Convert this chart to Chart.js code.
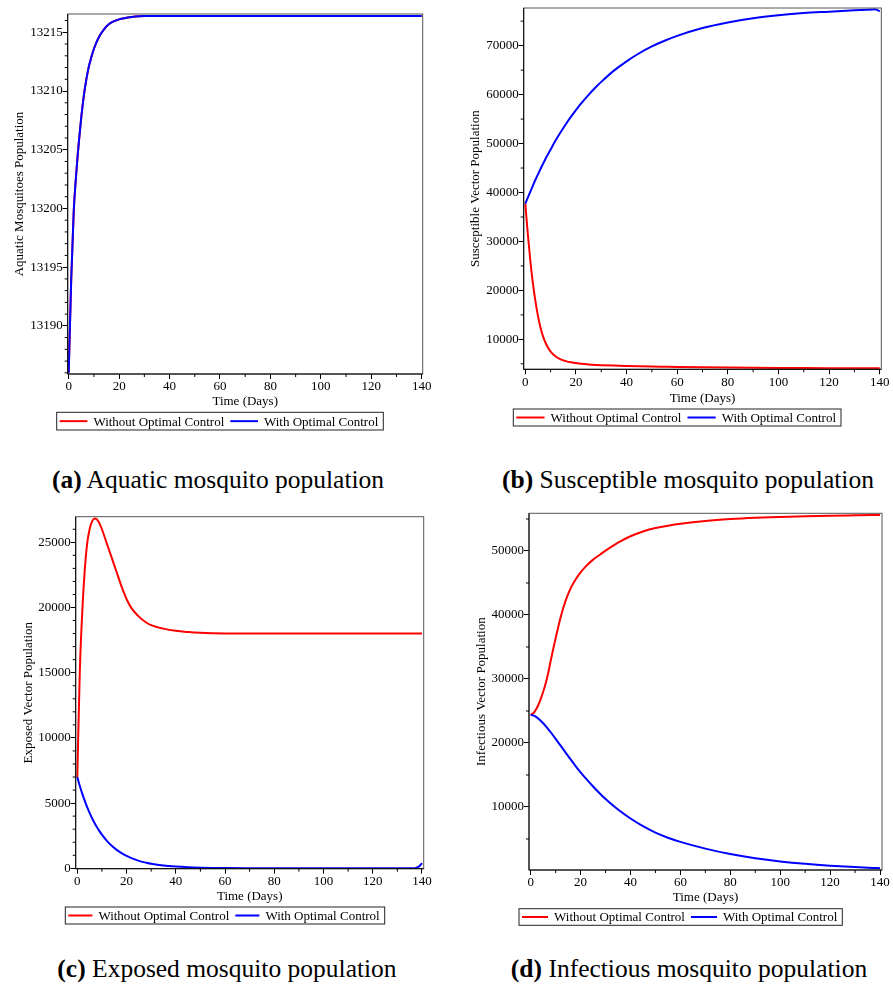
<!DOCTYPE html>
<html>
<head>
<meta charset="utf-8">
<title>Mosquito populations</title>
<script src="https://cdn.jsdelivr.net/npm/chart.js@4.4.1/dist/chart.umd.min.js"></script>
<style>
  body { margin: 0; background: #fff; width: 893px; height: 989px; position: relative; overflow: hidden;
         font-family: "Liberation Serif", "Times New Roman", serif; color: #000; }
  .panel { position: absolute; }
  .caption { position: absolute; font-size: 25.5px; line-height: 25px; white-space: nowrap; transform: translateX(-50%); }
</style>
</head>
<body>
<div class="panel" style="left:0px;top:0px"><canvas id="chartA" width="440" height="440"></canvas></div>
<div class="panel" style="left:450px;top:0px"><canvas id="chartB" width="443" height="440"></canvas></div>
<div class="panel" style="left:0px;top:500px"><canvas id="chartC" width="440" height="440"></canvas></div>
<div class="panel" style="left:450px;top:500px"><canvas id="chartD" width="443" height="440"></canvas></div>

<div class="caption" style="left:218px;top:467px"><b>(a)</b> Aquatic mosquito population</div>
<div class="caption" style="left:688px;top:467px"><b>(b)</b> Susceptible mosquito population</div>
<div class="caption" style="left:227px;top:956px"><b>(c)</b> Exposed mosquito population</div>
<div class="caption" style="left:689px;top:956px"><b>(d)</b> Infectious mosquito population</div>

<script>
// time points (days) shared by every series
const days = [0, 1, 2, 3, 4, 5, 6, 7, 8, 9, 10, 12, 14, 16, 18, 20, 22, 25, 28, 30,
  35, 40, 45, 50, 55, 60, 70, 80, 90, 100, 110, 120, 130, 137, 138, 139, 140];

const seriesLabels = ["Without Optimal Control", "With Optimal Control"];
const xTitle = "Time (Days)";
const xTicks = [0, 20, 40, 60, 80, 100, 120, 140];

// (a) aquatic
const aquaticWithout = [13186, 13194, 13199.8, 13203, 13205.6, 13207.8, 13209.6, 13211, 13212.1, 13212.9, 13213.6,
  13214.6, 13215.25, 13215.7, 13215.95, 13216.1, 13216.2, 13216.3, 13216.36, 13216.38,
  13216.4, 13216.4, 13216.4, 13216.4, 13216.4, 13216.4,
  13216.4, 13216.4, 13216.4, 13216.4, 13216.4, 13216.4, 13216.4,
  13216.4, 13216.4, 13216.4, 13216.4];
const aquaticWith = [13186, 13194, 13199.8, 13203, 13205.6, 13207.8, 13209.6, 13211, 13212.1, 13212.9, 13213.6,
  13214.6, 13215.25, 13215.7, 13215.95, 13216.1, 13216.2, 13216.3, 13216.36, 13216.38,
  13216.4, 13216.4, 13216.4, 13216.4, 13216.4, 13216.4,
  13216.4, 13216.4, 13216.4, 13216.4, 13216.4, 13216.4, 13216.4,
  13216.4, 13216.4, 13216.4, 13216.4];
const aquaticTicks = [13190, 13195, 13200, 13205, 13210, 13215];

// (b) susceptible
const susceptibleWithout = [37700, 31500, 26000, 21500, 17800, 14800, 12400, 10600, 9300, 8300, 7500,
  6500, 5900, 5550, 5300, 5150, 5020, 4880, 4780, 4730,
  4630, 4560, 4500, 4450, 4410, 4370,
  4300, 4240, 4190, 4150, 4120, 4100, 4080,
  4070, 4070, 4070, 4070];
const susceptibleWith = [37700, 38950, 40200, 41400, 42600, 43700, 44800, 45850, 46900, 47850, 48800,
  50650, 52350, 53950, 55450, 56850, 58150, 59950, 61600, 62600,
  64900, 66800, 68450, 69850, 71000, 72000,
  73600, 74750, 75600, 76200, 76650, 76950, 77250,
  77400, 77420, 77300, 77000];
const susceptibleTicks = [10000, 20000, 30000, 40000, 50000, 60000, 70000];

// (c) exposed
const exposedWithout = [7000, 15000, 19600, 22800, 24900, 26000, 26600, 26830, 26750, 26450, 26000,
  24900, 23800, 22700, 21600, 20650, 19950, 19300, 18850, 18650,
  18380, 18210, 18120, 18060, 18030, 18015,
  18003, 18000, 18000, 18000, 18000, 18000, 18000,
  18000, 18000, 18000, 18000];
const exposedWith = [7000, 6330, 5730, 5190, 4690, 4250, 3840, 3480, 3150, 2850, 2580,
  2110, 1730, 1410, 1160, 950, 780, 570, 430, 350,
  210, 130, 80, 50, 30, 20,
  10, 5, 3, 2, 1, 1, 1,
  10, 60, 180, 400];
const exposedTicks = [0, 5000, 10000, 15000, 20000, 25000];

// (d) infectious
const infectiousWithout = [24400, 24650, 25150, 25900, 26850, 28000, 29300, 30900, 32800, 34650, 36350,
  39650, 42250, 44150, 45550, 46650, 47550, 48650, 49500, 50050,
  51300, 52300, 53050, 53600, 53950, 54250,
  54700, 55000, 55200, 55330, 55430, 55510, 55570,
  55610, 55615, 55620, 55625];
const infectiousWith = [24400, 24320, 24120, 23830, 23480, 23080, 22640, 22170, 21680, 21170, 20650,
  19580, 18500, 17430, 16400, 15420, 14500, 13200, 12000, 11250,
  9600, 8200, 7000, 6000, 5200, 4550,
  3500, 2650, 2000, 1500, 1120, 830, 610,
  480, 465, 450, 440];
const infectiousTicks = [10000, 20000, 30000, 40000, 50000];

const FONT_FAMILY = "'Liberation Serif', 'Times New Roman', serif";
Chart.defaults.font.family = FONT_FAMILY;
Chart.defaults.font.size = 13;
Chart.defaults.color = "#000";

const HALF_LINE = 13 * 1.2 / 2;

// box around the plot area
const plotFrame = {
  id: "plotFrame",
  afterDatasetsDraw(chart) {
    const { ctx, chartArea: a } = chart;
    ctx.save();
    ctx.lineWidth = 1;
    ctx.strokeStyle = "#555";
    ctx.strokeRect(a.left, a.top, a.right - a.left, a.bottom - a.top);
    ctx.strokeStyle = "#000";
    ctx.beginPath();
    ctx.moveTo(a.left, a.top);
    ctx.lineTo(a.left, a.bottom);
    ctx.lineTo(a.right, a.bottom);
    ctx.stroke();
    ctx.restore();
  }
};

// short unlabeled ticks between the labelled ones
const minorTicks = {
  id: "minorTicks",
  afterDraw(chart, args, opts) {
    const { ctx, chartArea: a, scales } = chart;
    ctx.save();
    ctx.strokeStyle = "#000";
    ctx.lineWidth = 1;
    ctx.beginPath();
    ["x", "y"].forEach(id => {
      const s = scales[id];
      const step = opts[id];
      const majors = s.ticks.map(t => t.value);
      for (let k = Math.ceil(s.min / step); k * step <= s.max; k++) {
        const v = k * step;
        if (majors.some(m => Math.abs(m - v) < step / 10)) continue;
        const p = s.getPixelForValue(v);
        if (id === "x") { ctx.moveTo(p, a.bottom); ctx.lineTo(p, a.bottom + 3); }
        else { ctx.moveTo(a.left, p); ctx.lineTo(a.left - 3, p); }
      }
    });
    ctx.stroke();
    ctx.restore();
  }
};

// legend inside a framed box under the plot
const boxedLegend = {
  id: "boxedLegend",
  afterDraw(chart, args, opts) {
    const { ctx } = chart;
    const b = opts.box;
    const sets = chart.data.datasets;
    ctx.save();
    ctx.font = "13px " + FONT_FAMILY;
    const widths = sets.map(d => ctx.measureText(d.label).width);
    const gap = 6;
    const lineLen = (b.w - widths[0] - widths[1] - gap * 3 - 8) / 2;
    ctx.strokeStyle = "#222";
    ctx.lineWidth = 1;
    ctx.strokeRect(b.x, b.y, b.w, b.h);
    const cy = b.y + b.h / 2;
    let x = b.x + 3;
    sets.forEach((d, i) => {
      ctx.strokeStyle = d.borderColor;
      ctx.lineWidth = 2;
      ctx.beginPath();
      ctx.moveTo(x, cy);
      ctx.lineTo(x + lineLen, cy);
      ctx.stroke();
      x += lineLen + gap;
      ctx.fillStyle = "#000";
      ctx.textBaseline = "middle";
      ctx.fillText(d.label, x, cy + 1);
      x += widths[i] + gap;
    });
    ctx.restore();
  }
};

function makeChart(id, p) {
  const padLeft = p.yTitleX - HALF_LINE;
  const xAxisBottom = p.xTitleY + HALF_LINE;
  const toPoints = arr => days.map((d, i) => ({ x: d, y: arr[i] }));
  return new Chart(document.getElementById(id), {
    type: "line",
    data: {
      datasets: [
        { label: seriesLabels[0], data: toPoints(p.without), borderColor: "#ff0000", backgroundColor: "#ff0000", order: 1 },
        { label: seriesLabels[1], data: toPoints(p.with), borderColor: "#0000ff", backgroundColor: "#0000ff", order: 0 }
      ]
    },
    options: {
      responsive: false,
      animation: false,
      elements: {
        point: { radius: 0 },
        line: { borderWidth: 2, cubicInterpolationMode: "monotone", fill: false }
      },
      layout: {
        padding: { left: padLeft, top: p.area.top, right: p.width - p.area.right, bottom: p.height - xAxisBottom }
      },
      scales: {
        x: {
          type: "linear",
          min: p.xMin,
          max: p.xMax,
          afterBuildTicks: s => { s.ticks = xTicks.map(v => ({ value: v })); },
          afterFit: s => { s.height = xAxisBottom - p.area.bottom; },
          ticks: { padding: 0, maxRotation: 0, autoSkip: false, callback: v => String(v) },
          grid: { drawOnChartArea: false, drawTicks: true, tickLength: 5, tickColor: "#000" },
          border: { display: false },
          title: { display: true, text: xTitle, padding: 0 }
        },
        y: {
          type: "linear",
          min: p.yMin,
          max: p.yMax,
          afterBuildTicks: s => { s.ticks = p.yTicks.map(v => ({ value: v })); },
          afterFit: s => { s.width = p.area.left - padLeft; },
          ticks: { padding: 0, autoSkip: false, callback: v => String(v) },
          grid: { drawOnChartArea: false, drawTicks: true, tickLength: 5, tickColor: "#000" },
          border: { display: false },
          title: { display: true, text: p.yTitle, padding: 0 }
        }
      },
      plugins: {
        legend: { display: false },
        tooltip: { enabled: false },
        minorTicks: { x: 10, y: p.yMinor },
        boxedLegend: { box: p.legend }
      }
    },
    plugins: [plotFrame, minorTicks, boxedLegend]
  });
}

function drawAll() {
  makeChart("chartA", {
    width: 440, height: 440,
    area: { left: 67.7, top: 14, right: 422.7, bottom: 374 },
    yTitleX: 19.7, xTitleY: 402,
    legend: { x: 56.7, y: 412.3, w: 326.6, h: 17.7 },
    xMin: -0.4, xMax: 140.4,
    yMin: 13185.9, yMax: 13216.56, yTicks: aquaticTicks, yMinor: 1,
    yTitle: "Aquatic Mosquitoes Population",
    without: aquaticWithout, with: aquaticWith
  });

  makeChart("chartB", {
    width: 443, height: 440,
    area: { left: 73.7, top: 8, right: 431.3, bottom: 369.3 },
    yTitleX: 25.7, xTitleY: 398.3,
    legend: { x: 63.3, y: 409, w: 327.7, h: 17 },
    xMin: -0.63, xMax: 140.63,
    yMin: 3878, yMax: 77694, yTicks: susceptibleTicks, yMinor: 5000,
    yTitle: "Susceptible Vector Population",
    without: susceptibleWithout, with: susceptibleWith
  });

  makeChart("chartC", {
    width: 440, height: 440,
    area: { left: 75.7, top: 16.7, right: 423.7, bottom: 368.7 },
    yTitleX: 29, xTitleY: 396.7,
    legend: { x: 65.3, y: 407, w: 319.4, h: 17 },
    xMin: -0.65, xMax: 140.7,
    yMin: -30, yMax: 26963, yTicks: exposedTicks, yMinor: 1000,
    yTitle: "Exposed Vector Population",
    without: exposedWithout, with: exposedWith
  });

  makeChart("chartD", {
    width: 443, height: 440,
    area: { left: 79, top: 13.3, right: 432, bottom: 370 },
    yTitleX: 31.7, xTitleY: 397.7,
    legend: { x: 69, y: 408.7, w: 323.3, h: 16.6 },
    xMin: -0.68, xMax: 140.8,
    yMin: 156, yMax: 55890, yTicks: infectiousTicks, yMinor: 5000,
    yTitle: "Infectious Vector Population",
    without: infectiousWithout, with: infectiousWith
  });
}

// make sure the serif face is ready before the canvases draw text
Promise.all([
  document.fonts.load("13px 'Liberation Serif'"),
  document.fonts.load("bold 13px 'Liberation Serif'")
]).then(drawAll, drawAll);
</script>
</body>
</html>
